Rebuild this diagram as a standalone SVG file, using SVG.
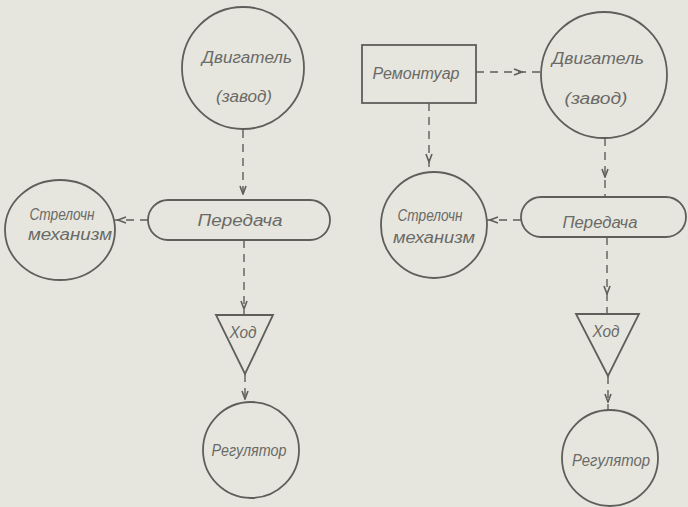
<svg xmlns="http://www.w3.org/2000/svg" width="688" height="507" viewBox="0 0 688 507">
<defs>
<marker id="arr" viewBox="0 0 10 10" refX="9" refY="5" markerWidth="10" markerHeight="10" markerUnits="userSpaceOnUse" orient="auto">
<path d="M1 2 L9 5 L1 8" fill="none" stroke="#5e5e5a" stroke-width="1.6"/>
</marker>
</defs>
<style>
.bg{fill:#e6e6df}
.n{fill:none;stroke:#5e5e5a;stroke-width:1.8}
.t{font-family:"Liberation Sans","DejaVu Sans",sans-serif;font-style:italic;font-size:16px;fill:#6a6a66;text-anchor:middle}
.c{fill:none;stroke:#5e5e5a;stroke-width:1.4;stroke-dasharray:8 6;marker-mid:url(#arr)}
</style>
<rect class="bg" x="0" y="0" width="688" height="507"/>
<g id="connectors">
<path class="c" d="M243 130 L243 194 L243 200"/>
<path class="c" d="M148 220 L118 220 L115 220"/>
<path class="c" d="M244 240 L244 309 L244 315"/>
<path class="c" d="M245 374 L245 399 L245 403"/>
<path class="c" d="M476 72 L522 72 L541 72"/>
<path class="c" d="M429 103 L429 162 L429 172"/>
<path class="c" d="M605 138 L605 177 L605 197"/>
<path class="c" d="M521 220 L490 220 L486 220"/>
<path class="c" d="M607 237 L607 294 L607 314"/>
<path class="c" d="M608 376 L608 402 L608 410"/>
</g>
<g id="dvig1"><circle class="n" cx="243" cy="68" r="61"/><text class="t" x="247" y="63" textLength="90" lengthAdjust="spacingAndGlyphs">Двигатель</text><text class="t" x="244" y="102" textLength="56" lengthAdjust="spacingAndGlyphs">(завод)</text></g>
<g id="pered1"><rect class="n" x="148" y="200" width="182" height="40" rx="20"/><text class="t" x="240" y="226" textLength="85" lengthAdjust="spacingAndGlyphs">Передача</text></g>
<g id="strel1"><ellipse class="n" cx="60" cy="230" rx="55" ry="50"/><text class="t" x="62" y="220" textLength="65" lengthAdjust="spacingAndGlyphs">Стрелочн</text><text class="t" x="70" y="240" textLength="84" lengthAdjust="spacingAndGlyphs">механизм</text></g>
<g id="hod1"><path class="n" d="M216 315 L273 315 L245 374 Z"/><text class="t" x="243" y="338" textLength="27" lengthAdjust="spacingAndGlyphs">Ход</text></g>
<g id="reg1"><circle class="n" cx="251" cy="450" r="48"/><text class="t" x="249" y="456" textLength="75" lengthAdjust="spacingAndGlyphs">Регулятор</text></g>
<g id="remont"><rect class="n" x="362" y="45" width="114" height="58"/><text class="t" x="416" y="79" textLength="87" lengthAdjust="spacingAndGlyphs">Ремонтуар</text></g>
<g id="dvig2"><circle class="n" cx="604" cy="75" r="63"/><text class="t" x="598" y="64" textLength="92" lengthAdjust="spacingAndGlyphs">Двигатель</text><text class="t" x="596" y="104" textLength="63" lengthAdjust="spacingAndGlyphs">(завод)</text></g>
<g id="pered2"><rect class="n" x="521" y="197" width="165" height="40" rx="20"/><text class="t" x="600" y="228" textLength="75" lengthAdjust="spacingAndGlyphs">Передача</text></g>
<g id="strel2"><circle class="n" cx="434" cy="225" r="53"/><text class="t" x="430" y="221" textLength="65" lengthAdjust="spacingAndGlyphs">Стрелочн</text><text class="t" x="434" y="243" textLength="82" lengthAdjust="spacingAndGlyphs">механизм</text></g>
<g id="hod2"><path class="n" d="M576 314 L639 314 L608 376 Z"/><text class="t" x="606" y="337" textLength="27" lengthAdjust="spacingAndGlyphs">Ход</text></g>
<g id="reg2"><circle class="n" cx="610" cy="458" r="48"/><text class="t" x="611" y="466" textLength="78" lengthAdjust="spacingAndGlyphs">Регулятор</text></g>
</svg>
